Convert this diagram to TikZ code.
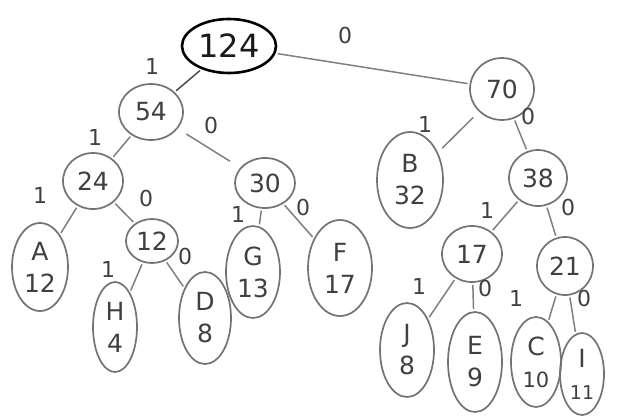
\documentclass[tikz,border=0pt]{standalone}
\usepackage{fontspec}
\setmainfont{DejaVu Sans}
\usetikzlibrary{shapes.geometric}
\begin{document}
\begin{tikzpicture}[x=1pt,y=-1pt,
  tn/.style={draw=black!55, line width=1.7pt, ellipse, inner sep=0pt, font=\fontsize{25}{32}\selectfont, text=black!75, align=center},
  rootn/.style={tn, draw=black, line width=2.6pt, text=black!90, font=\fontsize{32}{32}\selectfont},
  lbl/.style={font=\fontsize{22}{22}\selectfont, text=black!75},
  edge/.style={draw=black!50, line width=1.5pt, shorten <=2pt, shorten >=2pt}]
\useasboundingbox (0,0) rectangle (619,416);
\fill[white] (0,0) rectangle (619,416);
% nodes
\node[rootn, minimum width=94pt, minimum height=54pt] (r) at (229,46) {124};
\node[tn, minimum width=64pt, minimum height=56pt] (n54) at (151,112) {54};
\node[tn, minimum width=64pt, minimum height=62pt] (n70) at (502,89) {70};
\node[tn, minimum width=60pt, minimum height=56pt] (n24) at (93,181) {24};
\node[tn, minimum width=60pt, minimum height=50pt] (n30) at (265,183) {30};
\node[tn, minimum width=66pt, minimum height=96pt] (B) at (410,180) {B\\32};
\node[tn, minimum width=58pt, minimum height=56pt] (n38) at (538,178) {38};
\node[tn, minimum width=56pt, minimum height=88pt] (A) at (40,267) {A\\12};
\node[tn, minimum width=52pt, minimum height=44pt] (n12) at (152,241) {12};
\node[tn, minimum width=54pt, minimum height=92pt] (G) at (253,272) {G\\13};
\node[tn, minimum width=64pt, minimum height=96pt] (F) at (340,268) {F\\17};
\node[tn, minimum width=44pt, minimum height=90pt] (H) at (115,327) {H\\4};
\node[tn, minimum width=52pt, minimum height=92pt] (D) at (205,318) {D\\8};
\node[tn, minimum width=60pt, minimum height=56pt] (n17) at (472,254) {17};
\node[tn, minimum width=56pt, minimum height=58pt] (n21) at (565,266) {21};
\node[tn, minimum width=54pt, minimum height=94pt] (J) at (407,350) {J\\8};
\node[tn, minimum width=54pt, minimum height=100pt] (E) at (475,362) {E\\9};
\node[tn, minimum width=50pt, minimum height=90pt] (C) at (536,362) {C\\{\fontsize{21}{32}\selectfont 10}};
\node[tn, minimum width=44pt, minimum height=82pt] (I) at (582,374) {I\\{\fontsize{19}{32}\selectfont 11}};
% edges
\draw[edge, draw=black!70] (r) -- (n54);
\draw[edge] (r) -- (n70);
\draw[edge] (n54) -- (n24);
\draw[edge, shorten <=10pt, shorten >=12pt] (n54) -- (n30);
\draw[edge] (n24) -- (A);
\draw[edge] (n24) -- (n12);
\draw[edge] (n12) -- (H);
\draw[edge] (n12) -- (D);
\draw[edge] (n30) -- (G);
\draw[edge] (n30) -- (F);
\draw[edge, shorten <=8pt, shorten >=6pt] (n70) -- (B);
\draw[edge] (n70) -- (n38);
\draw[edge] (n38) -- (n17);
\draw[edge] (n38) -- (n21);
\draw[edge] (n17) -- (J);
\draw[edge] (n17) -- (E);
\draw[edge] (n21) -- (C);
\draw[edge] (n21) -- (I);
% labels
\node[lbl] (l1) at (152,66) {1};
\node[lbl] (l2) at (345,35) {0};
\node[lbl] (l3) at (95,137) {1};
\node[lbl] (l4) at (211,125) {0};
\node[lbl] (l5) at (40,195) {1};
\node[lbl] (l6) at (146,198) {0};
\node[lbl] (l7) at (108,269) {1};
\node[lbl] (l8) at (185,256) {0};
\node[lbl] (l9) at (238,214) {1};
\node[lbl] (l10) at (303,207) {0};
\node[lbl] (l11) at (425,124) {1};
\node[lbl] (l12) at (528,116) {0};
\node[lbl] (l13) at (487,210) {1};
\node[lbl] (l14) at (568,207) {0};
\node[lbl] (l15) at (419,286) {1};
\node[lbl] (l16) at (485,288) {0};
\node[lbl] (l17) at (516,298) {1};
\node[lbl] (l18) at (584,298) {0};
\end{tikzpicture}
\end{document}
